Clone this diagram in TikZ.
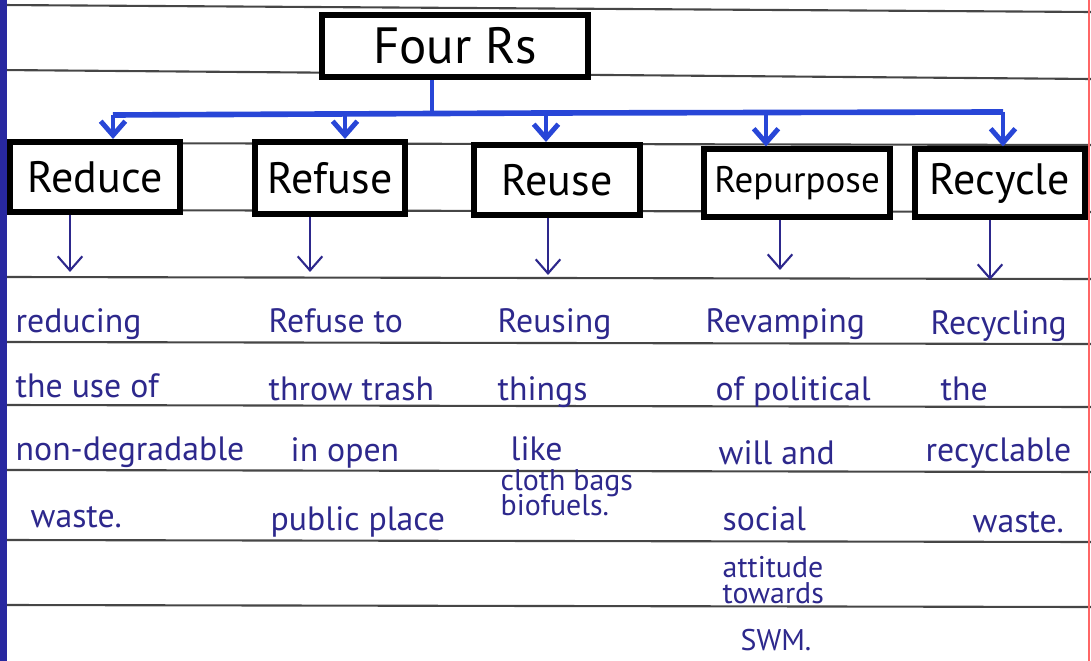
\documentclass[tikz,border=0pt]{standalone}
\usepackage{fontspec}
\setmainfont{PT Sans}
\usetikzlibrary{arrows.meta}

\definecolor{inkblue}{RGB}{45,40,140}
\definecolor{penblue}{RGB}{40,70,215}
\definecolor{margin}{RGB}{40,40,160}
\definecolor{rule}{RGB}{70,70,70}

\tikzset{
  rbox/.style={draw=black,line width=1.7pt,inner sep=0pt,fill=white,
    font=\fontsize{12.5}{14}\selectfont},
  body/.style={inkblue,anchor=base west,inner sep=0pt,
    font=\fontsize{9.6}{12}\selectfont},
  small/.style={body,font=\fontsize{8.5}{10}\selectfont},
  bararrow/.style={penblue,line width=1.4pt,-{Straight Barb[length=4pt,width=7pt]}},
  thinarrow/.style={inkblue,line width=0.6pt,-{Straight Barb[length=4pt,width=7pt]}}
}

\begin{document}
\begin{tikzpicture}[x=0.01cm,y=-0.01cm]
    \useasboundingbox (0,0) rectangle (1091,661);

    % ruled paper
    \draw[rule,line width=0.6pt] (0,5) -- (1091,12);
    \draw[rule,line width=0.6pt] (0,70) -- (1091,79);
    \foreach \y in {143,210,277,342,405,470,540,605}
        \draw[rule,line width=0.6pt] (0,\y) -- (1091,\y+2);
    \draw[margin,line width=2pt] (3,0) -- (3,661);
    \draw[red!60,line width=0.5pt] (1089,0) -- (1089,661);

    % boxes
    \node[rbox,minimum width=2.65cm,minimum height=0.62cm,
        font=\fontsize{14.5}{16}\selectfont] (four) at (455,46) {Four Rs};
    \node[rbox,minimum width=1.70cm,minimum height=0.70cm] (reduce) at (95,177) {Reduce};
    \node[rbox,minimum width=1.50cm,minimum height=0.72cm] (refuse) at (330,178) {Refuse};
    \node[rbox,minimum width=1.65cm,minimum height=0.70cm] (reuse) at (557,180) {Reuse};
    \node[rbox,minimum width=1.85cm,minimum height=0.67cm,
        font=\fontsize{10.5}{12}\selectfont] (repurpose) at (797,183) {Repurpose};
    \node[rbox,minimum width=1.70cm,minimum height=0.67cm] (recycle) at (1000,183) {Recycle};

    % blue tree
    \coordinate (hub) at (432,113);
    \coordinate (t1) at (113,115);
    \coordinate (t2) at (345,114);
    \coordinate (t3) at (546,113);
    \coordinate (t4) at (766,112);
    \coordinate (t5) at (1003,112);
    \draw[penblue,line width=1.4pt] (four.south -| hub) -- (hub);
    \draw[penblue,line width=1.6pt] (t1) -- (t3) -- (t5);
    \draw[bararrow] (t1) -- (t1 |- reduce.north);
    \draw[bararrow] (t2) -- (t2 |- refuse.north);
    \draw[bararrow] (t3) -- (t3 |- reuse.north);
    \draw[bararrow] (t4) -- (t4 |- repurpose.north);
    \draw[bararrow] (t5) -- (t5 |- recycle.north);

    % thin arrows to the notes
    \coordinate (e1) at (70,272);
    \coordinate (e2) at (310,272);
    \coordinate (e3) at (548,275);
    \coordinate (e4) at (780,270);
    \coordinate (e5) at (990,280);
    \draw[thinarrow] (reduce.south -| e1) -- (e1);
    \draw[thinarrow] (refuse.south -| e2) -- (e2);
    \draw[thinarrow] (reuse.south -| e3) -- (e3);
    \draw[thinarrow] (repurpose.south -| e4) -- (e4);
    \draw[thinarrow] (recycle.south -| e5) -- (e5);

    % notes
    \node[body] (reduceA) at (15,333) {reducing};
    \node[body] (reduceB) at (15,398) {the use of};
    \node[body] (reduceC) at (15,460) {non-degradable};
    \node[body] (reduceD) at (30,527) {waste.};

    \node[body] (refuseA) at (268,333) {Refuse to};
    \node[body] (refuseB) at (268,400) {throw trash};
    \node[body] (refuseC) at (290,462) {in open};
    \node[body] (refuseD) at (270,530) {public place};

    \node[body] (reuseA) at (497,333) {Reusing};
    \node[body] (reuseB) at (497,400) {things};
    \node[body] (reuseC) at (510,460) {like};
    \node[small] (reuseD) at (500,490) {cloth bags};
    \node[small] (reuseE) at (500,515) {biofuels.};

    \node[body] (repurposeA) at (705,333) {Revamping};
    \node[body] (repurposeB) at (715,400) {of political};
    \node[body] (repurposeC) at (718,465) {will and};
    \node[body] (repurposeD) at (722,530) {social};
    \node[small] (repurposeE) at (722,577) {attitude};
    \node[small] (repurposeF) at (722,603) {towards};
    \node[small] (repurposeG) at (740,650) {SWM.};

    \node[body] (recycleA) at (930,335) {Recycling};
    \node[body] (recycleB) at (940,400) {the};
    \node[body] (recycleC) at (925,462) {recyclable};
    \node[body] (recycleD) at (972,532) {waste.};
\end{tikzpicture}
\end{document}
